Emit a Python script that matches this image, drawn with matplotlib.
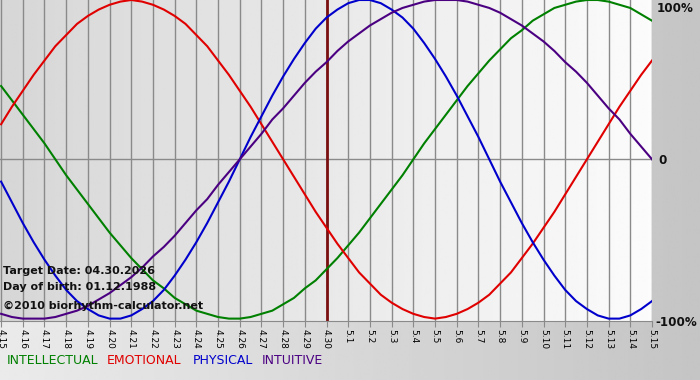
import matplotlib
matplotlib.use('Agg')
import matplotlib.pyplot as plt
import numpy as np

# dias del 4.15 al 5.15
dias = ['4.15', '4.16', '4.17', '4.18', '4.19', '4.20', '4.21', '4.22', '4.23', '4.24',
        '4.25', '4.26', '4.27', '4.28', '4.29', '4.30', '5.1', '5.2', '5.3', '5.4',
        '5.5', '5.6', '5.7', '5.8', '5.9', '5.10', '5.11', '5.12', '5.13', '5.14', '5.15']

# valores leidos cada medio dia (4.15, 4.15.5, 4.16, ...)
intelectual = [0.46, 0.37, 0.28, 0.19, 0.10, 0.00,
               -0.10, -0.19, -0.28, -0.37, -0.46, -0.54, -0.62, -0.69, -0.76, -0.81, -0.87,
               -0.91, -0.95, -0.97, -0.99, -1.00, -1.00, -0.99, -0.97, -0.95, -0.91, -0.87,
               -0.81, -0.76, -0.69, -0.62, -0.54, -0.46, -0.37, -0.28, -0.19, -0.10,
               0.00, 0.10, 0.19, 0.28, 0.37, 0.46, 0.54, 0.62, 0.69, 0.76, 0.81, 0.87, 0.91,
               0.95, 0.97, 0.99, 1.00, 1.00, 0.99, 0.97, 0.95, 0.91, 0.87]
emocional = [0.22, 0.33, 0.43, 0.53, 0.62, 0.71, 0.78, 0.85, 0.90, 0.94, 0.97, 0.99, 1.00,
             0.99, 0.97, 0.94, 0.90, 0.85, 0.78, 0.71, 0.62, 0.53, 0.43, 0.33, 0.22, 0.11, 0.00,
             -0.11, -0.22, -0.33, -0.43, -0.53, -0.62, -0.71, -0.78, -0.85, -0.90, -0.94,
             -0.97, -0.99, -1.00, -0.99, -0.97, -0.94, -0.90, -0.85, -0.78, -0.71, -0.62,
             -0.53, -0.43, -0.33, -0.22, -0.11, 0.00,
             0.11, 0.22, 0.33, 0.43, 0.53, 0.62]
fisico = [-0.14, -0.27, -0.40, -0.52, -0.63, -0.73, -0.82, -0.89, -0.94, -0.98, -1.00, -1.00,
          -0.98, -0.94, -0.89, -0.82, -0.73, -0.63, -0.52, -0.40, -0.27, -0.14,
          0.00, 0.14, 0.27, 0.40, 0.52, 0.63, 0.73, 0.82, 0.89, 0.94, 0.98, 1.00, 1.00, 0.98,
          0.94, 0.89, 0.82, 0.73, 0.63, 0.52, 0.40, 0.27, 0.14,
          0.00, -0.14, -0.27, -0.40, -0.52, -0.63, -0.73, -0.82, -0.89, -0.94, -0.98, -1.00,
          -1.00, -0.98, -0.94, -0.89]
intuitivo = [-0.97, -0.99, -1.00, -1.00, -1.00, -0.99, -0.97, -0.95, -0.92, -0.88, -0.84,
             -0.79, -0.74, -0.68, -0.61, -0.55, -0.48, -0.40, -0.32, -0.25, -0.16, -0.08, 0.00,
             0.08, 0.16, 0.25, 0.32, 0.40, 0.48, 0.55, 0.61, 0.68, 0.74, 0.79, 0.84, 0.88, 0.92,
             0.95, 0.97, 0.99, 1.00, 1.00, 1.00, 0.99, 0.97, 0.95, 0.92, 0.88, 0.84, 0.79, 0.74,
             0.68, 0.61, 0.55, 0.48, 0.40, 0.32, 0.25, 0.16, 0.08, 0.00]

dia_objetivo = '4.30'

x = np.arange(len(dias))
x_medio = np.arange(len(intelectual)) / 2

fig = plt.figure(figsize=(7, 3.8), dpi=100)

# fondo de la figura (degradado horizontal)
fondo = fig.add_axes([0, 0, 1, 1], zorder=-2)
fondo.imshow(np.linspace(0.92, 0.77, 256).reshape(1, -1), cmap='gray', vmin=0, vmax=1,
             aspect='auto', extent=[0, 1, 0, 1])
fondo.axis('off')

ax = fig.add_axes([0, 1 - 321 / 380, 652 / 700, 321 / 380])
ax.patch.set_alpha(0)
ax.imshow(np.linspace(0.84, 0.985, 256).reshape(1, -1), cmap='gray', vmin=0, vmax=1,
          aspect='auto', extent=[-0.05, 30, -1.015, 1.0], zorder=0)

ax.set_xlim(-0.05, 30)
ax.set_ylim(-1.015, 1.0)

for xi in x:
    ax.axvline(xi, color='#8a8a8a', lw=1, zorder=1)
ax.axhline(0, color='#8a8a8a', lw=1, zorder=1)
ax.axvline(dias.index(dia_objetivo), color='#7a1010', lw=2, zorder=2)

ax.plot(x_medio, intelectual, color='#008000', lw=1.5, zorder=3)
ax.plot(x_medio, emocional, color='#e00000', lw=1.5, zorder=3)
ax.plot(x_medio, fisico, color='#0000cc', lw=1.5, zorder=3)
ax.plot(x_medio, intuitivo, color='#4b0082', lw=1.5, zorder=3)

for s in ['top', 'left', 'right']:
    ax.spines[s].set_visible(False)
ax.spines['bottom'].set_color('#8a8a8a')
ax.set_xticks(x)
ax.set_xticklabels(dias, rotation=270, fontsize=6.5, family='DejaVu Sans')
ax.tick_params(axis='x', length=4, color='#8a8a8a', pad=2)
ax.set_yticks([])

font_eje = {'family': 'DejaVu Sans', 'weight': 'bold', 'size': 8.6, 'color': '#111'}
fig.text(657 / 700, 1 - 8 / 380, '100%', fontdict=font_eje, va='center')
fig.text(658 / 700, 1 - 161 / 380, '0', fontdict=font_eje, va='center')
fig.text(655 / 700, 1 - 322 / 380, '-100%', fontdict=font_eje, va='center')

font_info = {'family': 'DejaVu Sans', 'weight': 'bold', 'size': 8, 'color': '#111'}
fig.text(3 / 700, 1 - 271 / 380, 'Target Date: 04.30.2026', fontdict=font_info, va='center')
fig.text(3 / 700, 1 - 287 / 380, 'Day of birth: 01.12.1988', fontdict=font_info, va='center')
fig.text(3 / 700, 1 - 306 / 380, '\u00a92010 biorhythm-calculator.net', fontdict=font_info,
         va='center')

leyenda = [('INTELLECTUAL', '#008000'), ('EMOTIONAL', '#e00000'),
           ('PHYSICAL', '#0000cc'), ('INTUITIVE', '#4b0082')]
pos = [7, 107, 193, 262]
for (txt, col), px in zip(leyenda, pos):
    fig.text(px / 700, 1 - 361 / 380, txt, color=col, fontsize=9, family='DejaVu Sans',
             va='center')

fig.savefig('out.png', dpi=100)
